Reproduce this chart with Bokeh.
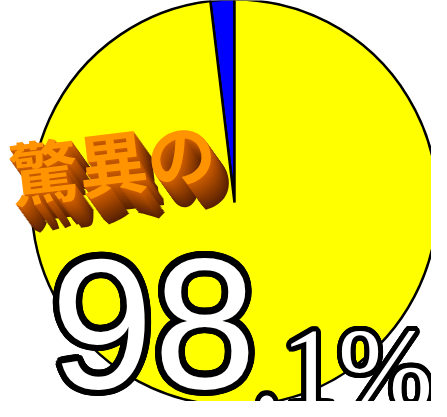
import numpy as np
from bokeh.plotting import figure
from bokeh.models import Range1d, ColumnDataSource
from bokeh.embed import file_html
from bokeh.resources import INLINE
from bokeh.core.properties import value

# ---- data ----
categories = ["その他", "驚異の割合"]
shares = [1.9, 98.1]
slice_colors = ["#0000FF", "#FFFF00"]
headline = "驚異の"
big_label = "98"
small_label = ".1%"

# ---- figure (1 data unit = 1 px; y data = 417 - screen y) ----
W, H = 431, 401
p = figure(width=W, height=H, x_range=Range1d(8, 439), y_range=Range1d(8, 409),
           output_backend="svg", toolbar_location=None, min_border=0)
p.axis.visible = False
p.grid.visible = False
p.outline_line_color = None
p.background_fill_color = "white"
p.border_fill_color = "white"


def Y(py):
    return 417 - py


# ---- pie ----
frac = np.array(shares) / sum(shares)
ends = np.pi / 2 + 2 * np.pi * np.cumsum(frac)
starts = ends - 2 * np.pi * frac
src = ColumnDataSource(dict(cat=categories, start=starts, end=ends, color=slice_colors))
p.wedge(x=242, y=Y(210), radius=203, start_angle="start", end_angle="end",
        fill_color="color", line_color="black", line_width=2.5, source=src)

# ---- 3D headline ----
n_layers = 18
ks = np.arange(n_layers, 0, -1)
dark = np.array([0x58, 0x20, 0x00])
mid = np.array([0xC8, 0x5A, 0x00])
layer_cols = []
for i, k in enumerate(ks):
    t = i / (n_layers - 1)
    c = (dark * (1 - t) + mid * t).astype(int)
    layer_cols.append("#%02x%02x%02x" % tuple(c))
hx, hy, hang = 17, Y(180), 0.12
fs = "69px"
ext = ColumnDataSource(dict(x=[hx] * n_layers, y=[hy] * n_layers, t=[headline] * n_layers,
                            xo=list(ks * 1.0), yo=list(ks * 1.4), c=layer_cols))
p.text(x="x", y="y", text="t", x_offset="xo", y_offset="yo", text_color="c", source=ext,
       angle=hang, text_font=value("Noto Sans CJK JP"), text_font_style="bold",
       text_font_size=fs, text_align="left", text_baseline="middle")
p.text(x=[hx], y=[hy], text=[headline], angle=hang, text_color="#FF9400",
       text_font=value("Noto Sans CJK JP"), text_font_style="bold",
       text_font_size=fs, text_align="left", text_baseline="middle")

# ---- outlined percentage ----
def outlined(txt, x, y, size, font, r):
    a = np.linspace(0, 2 * np.pi, 28, endpoint=False)
    n = len(a)
    s = ColumnDataSource(dict(x=[x] * n, y=[y] * n, t=[txt] * n,
                              xo=list(r * np.cos(a)), yo=list(r * np.sin(a))))
    p.text(x="x", y="y", text="t", x_offset="xo", y_offset="yo", source=s,
           text_color="black", text_font=value(font), text_font_size=size,
           text_align="left", text_baseline="alphabetic")
    p.text(x=[x], y=[y], text=[txt], text_color="white", text_font=value(font),
           text_font_size=size, text_align="left", text_baseline="alphabetic")


outlined(big_label, 58, Y(331), "185px", "Liberation Sans", 6.5)
outlined(small_label, 260, Y(376), "114px", "Liberation Sans Narrow", 5)

open("out.html", "w").write(file_html(p, INLINE))
